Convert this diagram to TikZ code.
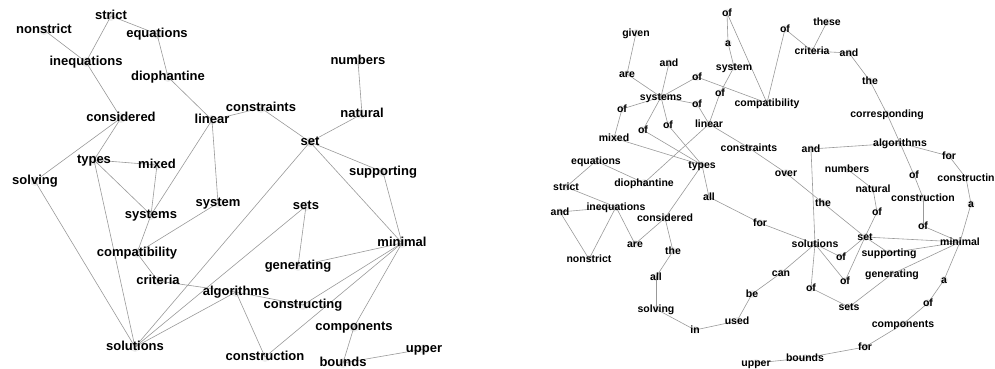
\documentclass[tikz,border=0pt]{standalone}
\usepackage{fontspec}
\setmainfont{Liberation Sans}
\usetikzlibrary{backgrounds}
\tikzset{
  lword/.style={font=\fontsize{13}{15}\selectfont\bfseries, inner sep=0pt, text height=1.5ex, text depth=0.3ex},
  rword/.style={font=\fontsize{10.5}{12}\selectfont\bfseries, inner sep=0pt, text height=1.5ex, text depth=0.3ex},
  link/.style={draw=black!40, line width=0.6pt},
  blob/.style={fill=black!7}
}
\begin{document}
\begin{tikzpicture}[x=1pt, y=-1pt]
      \useasboundingbox (0,0) rectangle (995,369);
      % keyword graph
      \draw[lword]
        (44,30) node (lnonstrict){nonstrict}
        (111,16) node (lstrict){strict}
        (157,34) node (lequations){equations}
        (86,62) node (linequations){inequations}
        (168,77) node (ldiophantine){diophantine}
        (121,118) node (lconsidered){considered}
        (212,120) node (llinear){linear}
        (261,108) node (lconstraints){constraints}
        (358,61) node (lnumbers){numbers}
        (362,114) node (lnatural){natural}
        (310,142) node (lset){set}
        (383,172) node (lsupporting){supporting}
        (35,181) node (lsolving){solving}
        (94,160) node (ltypes){types}
        (157,165) node (lmixed){mixed}
        (151,215) node (lsystems){systems}
        (218,203) node (lsystem){system}
        (306,206) node (lsets){sets}
        (137,253) node (lcompatibility){compatibility}
        (402,243) node (lminimal){minimal}
        (298,266) node (lgenerating){generating}
        (158,281) node (lcriteria){criteria}
        (236,292) node (lalgorithms){algorithms}
        (303,305) node (lconstructing){constructing}
        (354,327) node (lcomponents){components}
        (135,347) node (lsolutions){solutions}
        (265,357) node (lconstruction){construction}
        (343,363) node (lbounds){bounds}
        (424,349) node (lupper){upper};
      % word sequence graph
      \draw[rword]
        (727,13) node (rofTop){of}
        (636,33) node (rgiven){given}
        (728,43) node (ra){a}
        (669,63) node (rand){and}
        (734,67) node (rsystem){system}
        (627,74) node (rare){are}
        (697,77) node (rofA){of}
        (661,97) node (rsystems){systems}
        (720,93) node (rofB){of}
        (697,104) node (rofC){of}
        (767,103) node (rcompatibility){compatibility}
        (622,109) node (rofD){of}
        (643,130) node (rofE){of}
        (668,125) node (rofF){of}
        (709,124) node (rlinear){linear}
        (614,138) node (rmixed){mixed}
        (749,148) node (rconstraints){constraints}
        (596,161) node (requations){equations}
        (702,165) node (rtypes){types}
        (644,183) node (rdiophantine){diophantine}
        (566,187) node (rstrict){strict}
        (827,22) node (rthese){these}
        (785,29) node (rofG){of}
        (812,51) node (rcriteria){criteria}
        (849,53) node (randH){and}
        (870,81) node (rtheH){the}
        (887,114) node (rcorresponding){corresponding}
        (900,143) node (ralgorithms){algorithms}
        (811,149) node (randI){and}
        (949,156) node (rfor){for}
        (786,173) node (rover){over}
        (847,169) node (rnumbers){numbers}
        (914,175) node (rofJ){of}
        (966,178) node (rconstructin){constructin}
        (873,189) node (rnatural){natural}
        (923,198) node (rconstruction){construction}
        (823,203) node (rtheK){the}
        (971,204) node (raL){a}
        (877,212) node (rofM){of}
        (760,223) node (rforN){for}
        (923,226) node (rofO){of}
        (865,237) node (rset){set}
        (960,242) node (rminimal){minimal}
        (815,244) node (rsolutions){solutions}
        (841,257) node (rofP){of}
        (889,253) node (rsupporting){supporting}
        (781,273) node (rcan){can}
        (845,281) node (rofQ){of}
        (892,274) node (rgenerating){generating}
        (944,280) node (raR){a}
        (811,288) node (rofS){of}
        (752,294) node (rbe){be}
        (928,303) node (rofT){of}
        (849,307) node (rsets){sets}
        (737,321) node (rused){used}
        (903,324) node (rcomponents){components}
        (695,330) node (rin){in}
        (865,347) node (rforU){for}
        (805,358) node (rbounds){bounds}
        (756,363) node (rupper){upper}
        (560,212) node (randV){and}
        (616,207) node (rinequations){inequations}
        (665,218) node (rconsidered){considered}
        (709,197) node (rallW){all}
        (635,244) node (rareX){are}
        (673,251) node (rtheY){the}
        (589,259) node (rnonstrict){nonstrict}
        (656,277) node (rallZ){all}
        (656,309) node (rsolving){solving};
      \begin{scope}[on background layer]
        \foreach \n in {lnonstrict,lstrict,lequations,linequations,ldiophantine,lconsidered,llinear,lconstraints,lnumbers,lnatural,lset,lsupporting,lsolving,ltypes,lmixed,lsystems,lsystem,lsets,lcompatibility,lminimal,lgenerating,lcriteria,lalgorithms,lconstructing,lcomponents,lsolutions,lconstruction,lbounds,lupper}
          \fill[blob] (\n.center) circle (5);
        \foreach \n in {rofTop,rgiven,ra,rand,rsystem,rare,rofA,rsystems,rofB,rofC,rcompatibility,rofD,rofE,rofF,rlinear,rmixed,rconstraints,requations,rtypes,rdiophantine,rstrict,rthese,rofG,rcriteria,randH,rtheH,rcorresponding,ralgorithms,randI,rfor,rover,rnumbers,rofJ,rconstructin,rnatural,rconstruction,rtheK,raL,rofM,rforN,rofO,rset,rminimal,rsolutions,rofP,rsupporting,rcan,rofQ,rgenerating,raR,rofS,rbe,rofT,rsets,rused,rcomponents,rin,rforU,rbounds,rupper,randV,rinequations,rconsidered,rallW,rareX,rtheY,rnonstrict,rallZ,rsolving}
          \fill[blob] (\n.center) circle (4);
        \foreach \a/\b in {lstrict/lequations, lstrict/linequations, lnonstrict/linequations,
            linequations/lconsidered, lequations/ldiophantine, ldiophantine/llinear,
            llinear/lconstraints, lconstraints/lset, lnumbers/lnatural, lnatural/lset,
            lset/lsupporting, lsupporting/lminimal, lset/lminimal, lset/lsolutions,
            lconsidered/lsolving, lconsidered/ltypes, ltypes/lmixed, ltypes/lsystems,
            ltypes/lsolutions, lmixed/lsystems, llinear/lsystems, llinear/lsystem,
            lsolving/lsolutions, lsystems/lcompatibility, lsystem/lcompatibility,
            lcompatibility/lcriteria, lcriteria/lalgorithms, lalgorithms/lsolutions,
            lalgorithms/lconstruction, lalgorithms/lconstructing, lsolutions/lsets,
            lsets/lgenerating, lgenerating/lminimal, lconstructing/lminimal,
            lconstruction/lminimal, lminimal/lcomponents, lcomponents/lbounds,
            lbounds/lupper}
          \draw[link] (\a.center) to (\b.center);
        \foreach \a/\b in {rcompatibility/rofA, rofA/rsystems, rsystems/rofC, rofC/rlinear,
            rlinear/rconstraints, rconstraints/rover, rover/rtheK, rtheK/rset, rset/rofM,
            rofM/rnatural, rnatural/rnumbers, rcriteria/rofG, rofG/rcompatibility,
            rcompatibility/rofTop, rofTop/ra, ra/rsystem, rsystem/rofB, rofB/rlinear,
            rlinear/rdiophantine, rdiophantine/requations, requations/rstrict,
            rstrict/rinequations, rinequations/randV, randV/rnonstrict,
            rnonstrict/rinequations, rinequations/rareX, rareX/rconsidered,
            rupper/rbounds, rbounds/rforU, rforU/rcomponents, rcomponents/rofT,
            rofT/raR, raR/rminimal, rminimal/rset, rset/rofP, rofP/rsolutions,
            rsolutions/randI, randI/ralgorithms, ralgorithms/rofJ, rofJ/rconstruction,
            rconstruction/rofO, rofO/rminimal, rminimal/rgenerating, rgenerating/rsets,
            rsets/rofS, rofS/rsolutions, rsolutions/rforN, rforN/rallW, rallW/rtypes,
            rtypes/rofE, rofE/rsystems, rsystems/rare, rare/rgiven, rthese/rcriteria,
            rcriteria/randH, randH/rtheH, rtheH/rcorresponding,
            rcorresponding/ralgorithms, ralgorithms/rfor, rfor/rconstructin,
            rconstructin/raL, raL/rminimal, rminimal/rsupporting, rsupporting/rset,
            rset/rofQ, rofQ/rsolutions, rsolutions/rcan, rcan/rbe, rbe/rused,
            rused/rin, rin/rsolving, rsolving/rallZ, rallZ/rtheY, rtheY/rconsidered,
            rconsidered/rtypes, rtypes/rofF, rofF/rsystems, rsystems/rand,
            rsystems/rofD, rofD/rmixed, rmixed/rtypes}
          \draw[link] (\a.center) to (\b.center);
      \end{scope}
    \end{tikzpicture}
\end{document}
